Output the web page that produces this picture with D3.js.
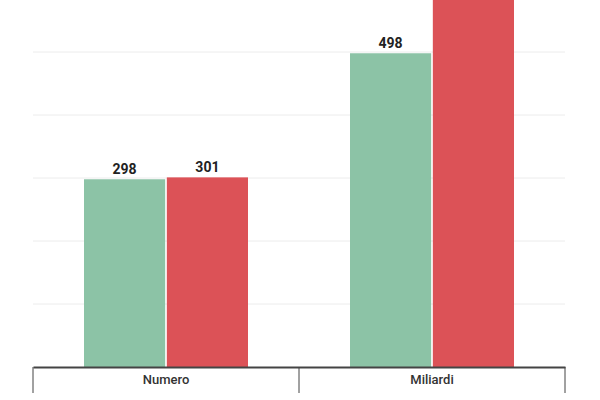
<!DOCTYPE html>
<html><head><meta charset="utf-8">
<script src="https://cdn.jsdelivr.net/npm/d3@7"></script>
<style>body{margin:0;background:#fff}svg{display:block}</style>
</head><body>
<svg id="c" width="600" height="400"></svg>
<script>
const categories = ["Numero", "Miliardi"];
const seriesNames = ["A", "B"];
const seriesA = [298, 498];
const seriesB = [301, 640];
const gridTicks = [100, 200, 300, 400, 500, 600];
const colors = ["#8cc3a6", "#dc5257"];

const svg = d3.select("#c");
const y = d3.scaleLinear().domain([0, 100]).range([367, 304]);
const x0 = d3.scaleBand().domain(categories).range([33, 565]);
const x1 = d3.scaleBand().domain(seriesNames).range([51, 215]).paddingInner(0.02);

svg.append("g").selectAll("line").data(gridTicks).join("line")
  .attr("x1", 33).attr("x2", 565)
  .attr("y1", d => y(d)).attr("y2", d => y(d))
  .attr("stroke", "#ececec").attr("stroke-width", 1);

const data = categories.map((c, i) => ({c, vals: [seriesA[i], seriesB[i]]}));
const g = svg.append("g").selectAll("g").data(data).join("g")
  .attr("transform", d => `translate(${x0(d.c)},0)`);
g.selectAll("rect").data(d => d.vals.map((v, j) => ({v, s: seriesNames[j], j})))
  .join("rect")
  .attr("x", d => x1(d.s)).attr("width", x1.bandwidth())
  .attr("y", d => y(d.v)).attr("height", d => y(0) - y(d.v))
  .attr("fill", d => colors[d.j]);
g.selectAll("text").data(d => d.vals.map((v, j) => ({v, s: seriesNames[j]})).filter(d => y(d.v) - 5 > 14))
  .join("text")
  .attr("x", d => x1(d.s) + x1.bandwidth() / 2).attr("y", d => y(d.v) - 5)
  .attr("text-anchor", "middle").attr("font-family", "Roboto").attr("font-weight", "bold")
  .attr("font-size", 14).attr("fill", "#222").text(d => d.v);

const ax = svg.append("g").attr("transform", "translate(0,367)")
  .call(d3.axisBottom(x0).tickSize(0).tickPadding(8));
ax.select(".domain").attr("stroke", "#444").attr("stroke-width", 2);
ax.selectAll("text").attr("font-family", "Roboto").attr("font-weight", 500).attr("font-size", 13).attr("fill", "#333");
svg.append("g").selectAll("line").data([33, 299, 565]).join("line")
  .attr("x1", d => d).attr("x2", d => d).attr("y1", 367).attr("y2", 393)
  .attr("stroke", "#444").attr("stroke-width", 1);
</script>
</body></html>
